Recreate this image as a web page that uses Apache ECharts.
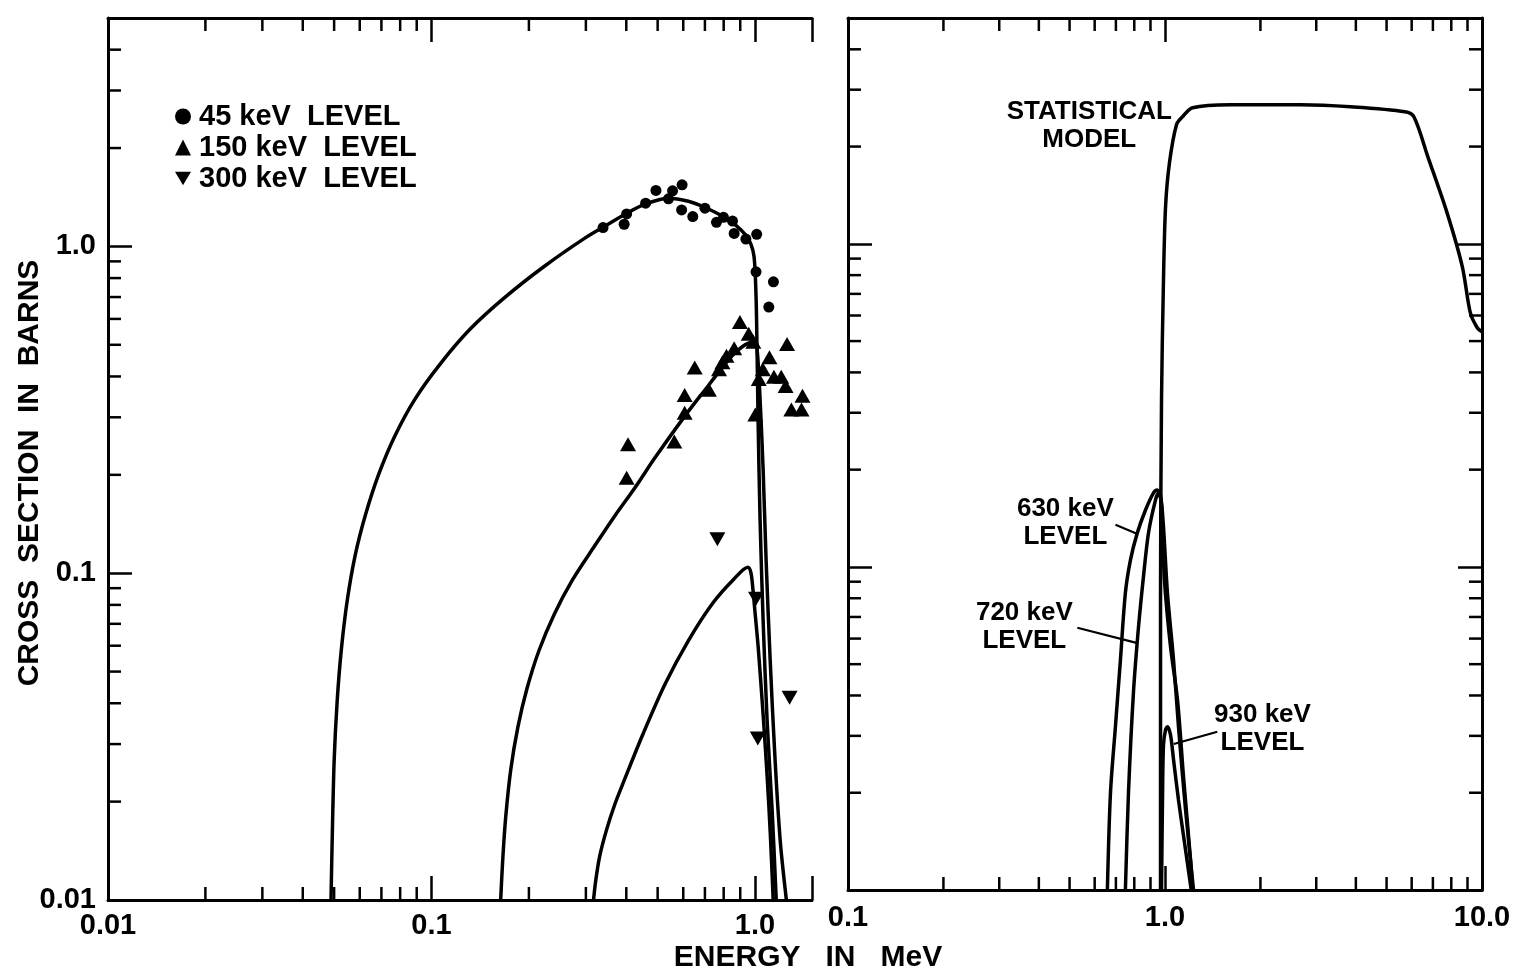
<!DOCTYPE html>
<html><head><meta charset="utf-8">
<script src="https://cdn.jsdelivr.net/npm/echarts@6/dist/echarts.min.js"></script>
<style>html,body{margin:0;padding:0;background:#fff}#c{width:1523px;height:978px}</style>
</head><body><div id="c"></div>
<script>
// ---------- DATA (energy MeV, cross section barns) ----------
const curve45 = [[0.0489,0.01],[0.0493,0.01508],[0.0500,0.02658],[0.0511,0.04066],[0.0526,0.058],[0.0549,0.0826],[0.0581,0.1136],[0.0625,0.1509],[0.0686,0.2002],[0.0769,0.2621],[0.0888,0.3405],[0.1063,0.4365],[0.1319,0.5595],[0.1696,0.7017],[0.2228,0.868],[0.297,1.058],[0.3428,1.152],[0.4015,1.263],[0.457,1.347],[0.5391,1.405],[0.6225,1.375],[0.6982,1.318],[0.7948,1.237],[0.8726,1.16],[0.9374,1.081],[0.9717,1.014],[0.9929,0.9316],[1.0037,0.7803],[1.011,0.6005],[1.0219,0.2956],[1.0366,0.1456],[1.0593,0.0717],[1.090,0.0353],[1.130,0.01866],[1.163,0.01]];
const curve150 = [[0.1636,0.01],[0.166,0.01328],[0.1696,0.018],[0.1758,0.0251],[0.1849,0.0338],[0.1972,0.0443],[0.2149,0.058],[0.2394,0.0748],[0.2724,0.0952],[0.3191,0.1211],[0.3685,0.1497],[0.4254,0.1826],[0.491,0.2258],[0.609,0.3041],[0.7187,0.3761],[0.772,0.4124],[0.8121,0.4395],[0.8602,0.4686],[0.9108,0.4924],[0.9579,0.5066],[0.9929,0.5102],[1.0144,0.4855],[1.0366,0.3405],[1.0593,0.2075],[1.082,0.1096],[1.114,0.054],[1.154,0.02658],[1.197,0.01508],[1.25,0.01]];
const curve300 = [[0.3168,0.01],[0.3214,0.01136],[0.3307,0.01356],[0.3477,0.01642],[0.3685,0.0196],[0.3932,0.0231],[0.4505,0.0322],[0.5277,0.04587],[0.6225,0.0622],[0.7396,0.0809],[0.8538,0.0952],[0.951,0.1043],[0.9717,0.1],[0.9858,0.0886],[1.0,0.0759],[1.0219,0.06],[1.044,0.0452],[1.0669,0.0333],[1.09,0.0239],[1.114,0.0162],[1.138,0.01]];
const pts45 = [[0.339,1.142],[0.394,1.169],[0.401,1.257],[0.459,1.356],[0.494,1.484],[0.540,1.398],[0.556,1.480],[0.595,1.544],[0.593,1.293],[0.642,1.234],[0.700,1.309],[0.760,1.185],[0.799,1.228],[0.852,1.196],[0.862,1.096],[0.937,1.053],[1.012,1.089],[1.007,0.836],[1.140,0.779],[1.103,0.652]];
const pts150 = [[0.898,0.587],[0.956,0.540],[0.988,0.511],[0.862,0.488],[0.816,0.463],[0.793,0.442],[0.774,0.421],[0.651,0.426],[0.606,0.351],[0.720,0.364],[0.606,0.310],[1.108,0.458],[1.256,0.503],[1.057,0.421],[1.027,0.393],[1.144,0.399],[1.205,0.399],[1.243,0.374],[1.402,0.349],[1.295,0.317],[1.392,0.317],[1.002,0.306],[0.563,0.253],[0.405,0.248],[0.401,0.196]];
const pts300 = [[0.765,0.127],[1.007,0.0836],[1.279,0.0416],[1.020,0.0312]];

const statModel = [[0.968,0.01],[0.968,0.079],[0.975,0.329],[0.989,0.774],[1.004,1.302],[1.033,1.781],[1.087,2.336],[1.136,2.474],[1.222,2.637],[1.609,2.693],[2.678,2.693],[3.846,2.655],[5.711,2.563],[6.097,2.474],[6.75,1.859],[7.76,1.247],[8.67,0.849],[9.19,0.611],[9.66,0.55],[10.0,0.534]];
const lvl630 = [[0.658,0.01],[0.673,0.02],[0.6975,0.032],[0.7234,0.0515],[0.750,0.0831],[0.778,0.105],[0.817,0.127],[0.868,0.150],[0.920,0.1695],[0.945,0.173],[0.968,0.167],[0.989,0.133],[1.018,0.083],[1.064,0.0515],[1.103,0.032],[1.161,0.0177],[1.230,0.01]];
const lvl720 = [[0.750,0.01],[0.767,0.02],[0.795,0.0407],[0.825,0.0652],[0.855,0.0931],[0.887,0.1274],[0.933,0.161],[0.954,0.1695],[0.975,0.156],[0.996,0.0912],[1.041,0.0566],[1.095,0.0388],[1.144,0.0224],[1.204,0.0124],[1.222,0.01]];
const lvl930 = [[0.975,0.01],[0.982,0.019],[0.989,0.0281],[1.004,0.0313],[1.018,0.032],[1.041,0.0302],[1.064,0.0253],[1.103,0.019],[1.161,0.0133],[1.21,0.01]];

const lead630 = [[0.698,0.135],[0.819,0.1265]];
const lead720 = [[0.529,0.0648],[0.813,0.0582]];
const lead930 = [[1.462,0.0309],[1.066,0.0283]];
const annoText = ['STATISTICAL\nMODEL','630 keV\nLEVEL','720 keV\nLEVEL','930 keV\nLEVEL'];
const annoPos = [[0.577,2.32],[0.485,0.1368],[0.36,0.0652],[2.03,0.0315]];

const legendNames = ['45 keV  LEVEL','150 keV  LEVEL','300 keV  LEVEL'];
const xTitle = 'ENERGY   IN   MeV';
const yTitle = 'CROSS  SECTION  IN  BARNS';

// axis ranges and tick labels
const leftXRange = [0.01,1.5], rightXRange = [0.1,10], yRange = [0.01,5];
const leftXTickVals = [0.01,0.1,1], leftXTickText = ['0.01','0.1','1.0'];
const rightXTickVals = [0.1,1,10], rightXTickText = ['0.1','1.0','10.0'];
const yTickVals = [0.01,0.1,1], yTickText = ['0.01','0.1','1.0'];
const xMinorLeft = [0.02,0.03,0.04,0.05,0.06,0.07,0.08,0.09,0.2,0.3,0.4,0.5,0.6,0.7,0.8,0.9];
const xMinorRight = [0.2,0.3,0.4,0.5,0.6,0.7,0.8,0.9,2,3,4,5,6,7,8,9];
const yMinor = [0.02,0.03,0.04,0.05,0.06,0.07,0.08,0.09,0.2,0.3,0.4,0.5,0.6,0.7,0.8,0.9,2,3,4];

// ---------- STYLE ----------
const FONT = 'Liberation Sans';
const TXT = {fontFamily: FONT, fontWeight: 'bold', color: '#000'};
const MAJ = 24, MIN = 13;

function labeler(vals, texts){
  return function(v){
    for (let i=0;i<vals.length;i++){ if (Math.abs(v-vals[i]) <= vals[i]*1e-6) return texts[i]; }
    return '';
  };
}
function logAxis(extra){
  return Object.assign({
    type:'log', logBase:10,
    axisLine:{show:true, onZero:false, lineStyle:{color:'#000', width:3}},
    axisTick:{show:true, inside:true, length:MAJ, lineStyle:{color:'#000', width:2.5}},
    splitLine:{show:false}, minorTick:{show:false},
    axisLabel:{show:false}
  }, extra);
}
const downTri = 'path://M0,0L20,0L10,17Z';

function xTicks(xi, yi, vals, yr, sides){
  return {type:'custom', xAxisIndex:xi, yAxisIndex:yi, silent:true, clip:false, z:3,
    data: vals.map(v=>[v, yr[0]]),
    renderItem:(params, api)=>{
      const v = api.value(0);
      const b = api.coord([v, yr[0]]), t = api.coord([v, yr[1]]);
      const st = {stroke:'#000', lineWidth:2.5};
      const ch = [];
      if (sides.includes('b')) ch.push({type:'line', shape:{x1:b[0],y1:b[1],x2:b[0],y2:b[1]-MIN}, style:st});
      if (sides.includes('t')) ch.push({type:'line', shape:{x1:t[0],y1:t[1],x2:t[0],y2:t[1]+MIN}, style:st});
      return {type:'group', children:ch};
    }};
}
function yTicks(xi, yi, vals, xr, sides){
  return {type:'custom', xAxisIndex:xi, yAxisIndex:yi, silent:true, clip:false, z:3,
    data: vals.map(v=>[xr[0], v]),
    renderItem:(params, api)=>{
      const v = api.value(1);
      const l = api.coord([xr[0], v]), r = api.coord([xr[1], v]);
      const st = {stroke:'#000', lineWidth:2.5};
      const ch = [];
      if (sides.includes('l')) ch.push({type:'line', shape:{x1:l[0],y1:l[1],x2:l[0]+MIN,y2:l[1]}, style:st});
      if (sides.includes('r')) ch.push({type:'line', shape:{x1:r[0],y1:r[1],x2:r[0]-MIN,y2:r[1]}, style:st});
      return {type:'group', children:ch};
    }};
}
function curve(xi, yi, data, w, sm){
  return {type:'line', xAxisIndex:xi, yAxisIndex:yi, data, symbol:'none', smooth:sm||false, silent:true,
    lineStyle:{color:'#000', width:w||3.5}, z:4};
}
function pts(name, data, symbol, size){
  return {type:'scatter', name, xAxisIndex:0, yAxisIndex:0, data, symbol, symbolSize:size,
    itemStyle:{color:'#000', opacity:1}, z:5, silent:true};
}

const chart = echarts.init(document.getElementById('c'), null, {renderer:'canvas'});
chart.setOption({
  animation:false,
  backgroundColor:'#fff',
  grid:[
    {left:108, top:18, width:704, height:882},
    {left:848, top:18, width:634, height:872}
  ],
  xAxis:[
    logAxis({gridIndex:0, position:'bottom', min:leftXRange[0], max:leftXRange[1],
      axisLabel:Object.assign({show:true, margin:11, fontSize:29, formatter:labeler(leftXTickVals,leftXTickText)}, TXT)}),
    logAxis({gridIndex:0, position:'top', min:leftXRange[0], max:leftXRange[1]}),
    logAxis({gridIndex:1, position:'bottom', min:rightXRange[0], max:rightXRange[1],
      axisLabel:Object.assign({show:true, margin:13, fontSize:29, formatter:labeler(rightXTickVals,rightXTickText)}, TXT)}),
    logAxis({gridIndex:1, position:'top', min:rightXRange[0], max:rightXRange[1]})
  ],
  yAxis:[
    logAxis({gridIndex:0, position:'left', min:yRange[0], max:yRange[1],
      axisLabel:Object.assign({show:true, margin:12, fontSize:29, formatter:labeler(yTickVals,yTickText)}, TXT)}),
    logAxis({gridIndex:1, position:'left', min:yRange[0], max:yRange[1]}),
    logAxis({gridIndex:1, position:'right', min:yRange[0], max:yRange[1]})
  ],
  legend:{
    data:legendNames, left:170, top:97, orient:'vertical', itemGap:2,
    itemWidth:16, itemHeight:16, itemStyle:{opacity:1}, selectedMode:false,
    textStyle:Object.assign({fontSize:29, lineHeight:29, padding:[0,0,0,3]}, TXT)
  },
  series:[
    xTicks(0,0,xMinorLeft,yRange,'bt'),
    yTicks(0,0,yMinor,leftXRange,'l'),
    xTicks(2,1,xMinorRight,yRange,'bt'),
    yTicks(2,1,yMinor,rightXRange,'lr'),
    curve(0,0,curve45,3.5,0.3), curve(0,0,curve150,3.5,0.3), curve(0,0,curve300,3.5,0.3),
    pts(legendNames[0], pts45, 'circle', 11),
    pts(legendNames[1], pts150, 'triangle', [16,14]),
    pts(legendNames[2], pts300, downTri, [16,14]),
    curve(2,1,statModel,3.5,0.3), curve(2,1,lvl630,3.5,0.3), curve(2,1,lvl720,3.5,0.3), curve(2,1,lvl930,3.5,0.3),
    curve(2,1,lead630,2.2), curve(2,1,lead720,2.2), curve(2,1,lead930,2.2)
  ]
});

// text annotations placed through the right panel's scales
const g = [];
annoPos.forEach((p,i)=>{
  const px = chart.convertToPixel({xAxisIndex:2, yAxisIndex:1}, p);
  g.push({type:'text', x:px[0], y:px[1], z:10, style:{text:annoText[i], font:'bold 26px "Liberation Sans"', fill:'#000',
    textAlign:'center', textVerticalAlign:'middle', lineHeight:28}});
});
g.push({type:'text', x:808, y:958, z:10, style:{text:xTitle, font:'bold 30px "Liberation Sans"', fill:'#000', textAlign:'center', textVerticalAlign:'middle'}});
g.push({type:'text', x:30, y:473, rotation:Math.PI/2, z:10, style:{text:yTitle, font:'bold 30px "Liberation Sans"', fill:'#000', textAlign:'center', textVerticalAlign:'middle'}});
chart.setOption({graphic:g});
</script></body></html>
